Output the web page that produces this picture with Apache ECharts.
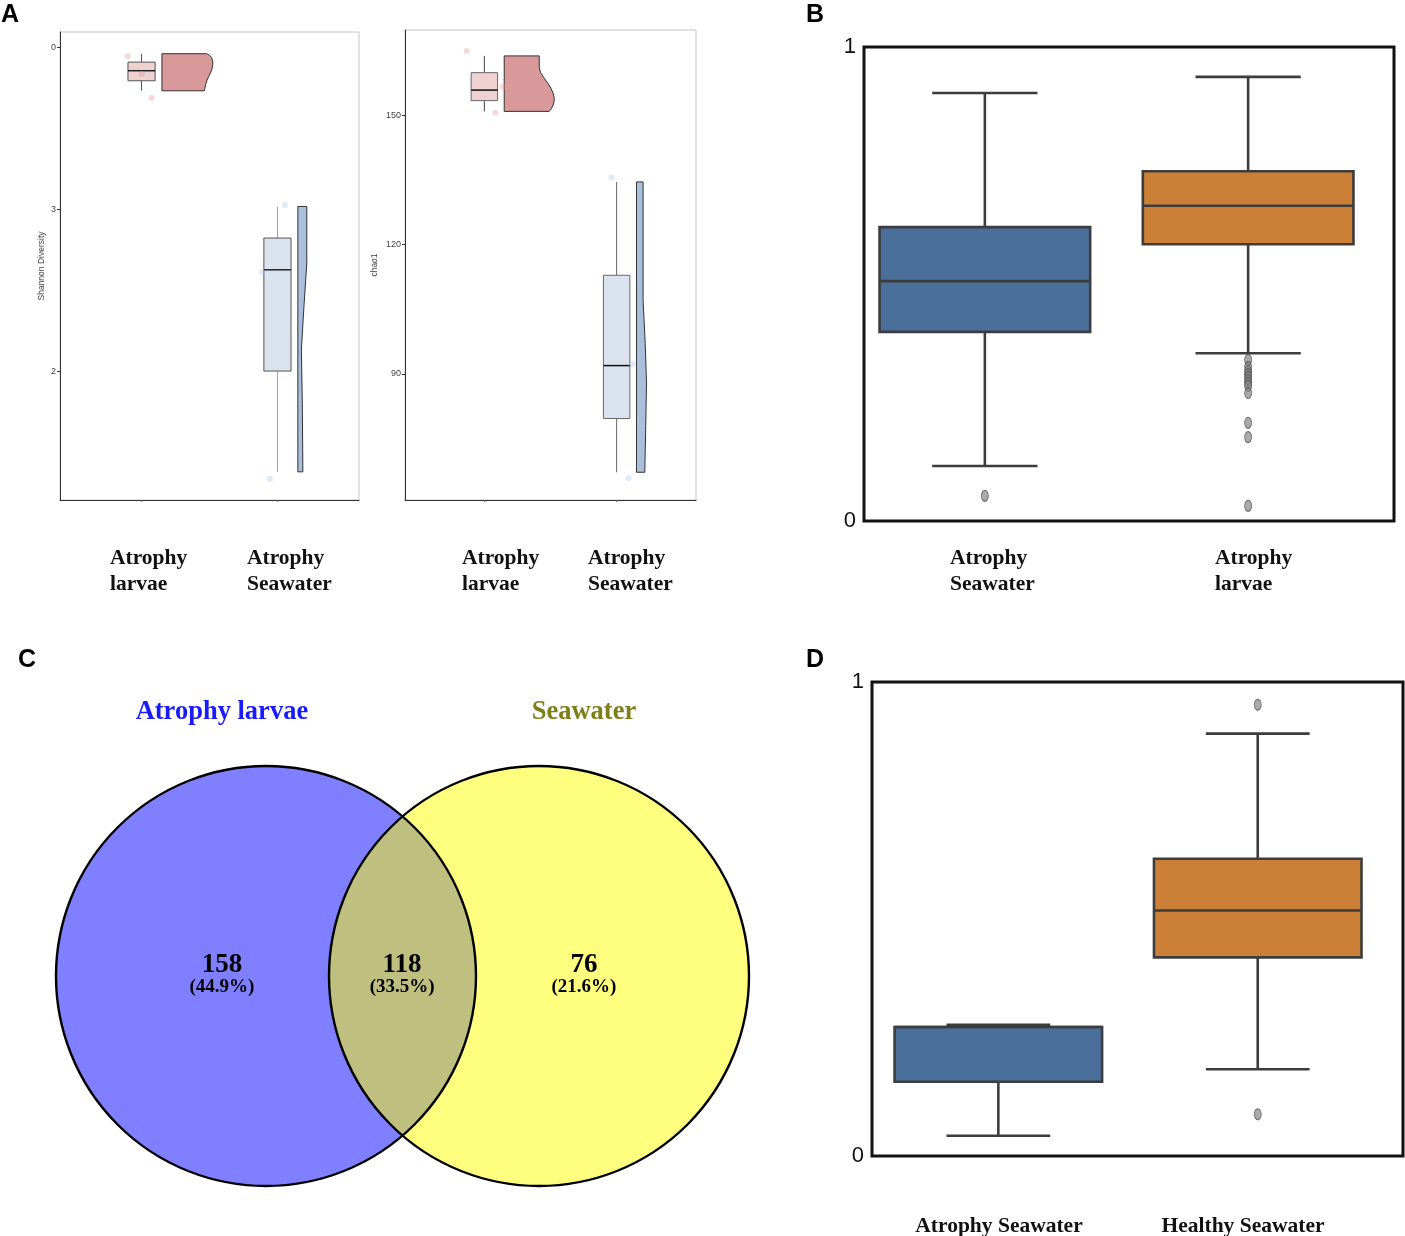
<!DOCTYPE html>
<html><head><meta charset="utf-8">
<script src="https://cdn.jsdelivr.net/npm/echarts@6/dist/echarts.min.js"></script>
<style>html,body{margin:0;padding:0;background:#fff}#c{width:1405px;height:1236px}</style>
</head><body><div id="c"></div>
<script>
// ---------------- DATA ----------------
// Panel A (left): Shannon diversity  [group, whiskerLow, Q1, median, Q3, whiskerHigh]
const groupsA = ['Atrophy larvae', 'Atrophy Seawater'];
const shannonBox = [[1, 3.730, 3.792, 3.854, 3.907, 3.959], [2, 1.378, 2.000, 2.625, 2.821, 3.016]];
const shannonPoints = [[0.897, 3.944], [1.000, 3.833], [1.074, 3.685], [2.055, 3.025], [1.886, 2.611], [1.945, 1.334]];
const shannonViolinLarvae = [[3.959, 0.330], [3.950, 0.350], [3.935, 0.366], [3.915, 0.373], [3.895, 0.375], [3.870, 0.370], [3.846, 0.360], [3.820, 0.345], [3.796, 0.332], [3.770, 0.322], [3.745, 0.316], [3.730, 0.312]];
const shannonViolinSeawater = [[3.016, 0.066], [2.667, 0.066], [2.40, 0.045], [2.13, 0.026], [1.80, 0.033], [1.378, 0.037]];
const shannonTicks = [2, 3, 4];
const shannonTickLabels = ['2', '3', '0'];
// Panel A (right): chao1
const chaoBox = [[1, 151.0, 153.5, 155.95, 160.0, 163.9], [2, 67.1, 79.6, 91.9, 112.9, 134.6]];
const chaoPoints = [[0.866, 165.06], [1.138, 156.72], [1.082, 150.69], [1.962, 135.6], [2.118, 92.2], [2.091, 65.7]];
const chaoViolinLarvae = [[163.9, 0.265], [161.2, 0.265], [160.0, 0.275], [158.6, 0.305], [157.4, 0.333], [156.3, 0.355], [155.2, 0.370], [154.2, 0.378], [153.2, 0.377], [152.5, 0.370], [151.6, 0.356], [151.0, 0.340]];
const chaoViolinSeawater = [[134.6, 0.050], [107.1, 0.050], [97.0, 0.066], [87.9, 0.076], [78.0, 0.070], [67.1, 0.063]];
const chaoTicks = [90, 120, 150];
// Panel B
const groupsB = ['Atrophy Seawater', 'Atrophy larvae'];
const boxB = [[0, 0.116, 0.399, 0.506, 0.620, 0.903], [1, 0.354, 0.584, 0.665, 0.738, 0.937]];
const outliersB = [[0, 0.053], [1, 0.340], [1, 0.325], [1, 0.316], [1, 0.310], [1, 0.304], [1, 0.297], [1, 0.291], [1, 0.285], [1, 0.270], [1, 0.207], [1, 0.177], [1, 0.032]];
// Panel C: Venn
const vennSets = ['Atrophy larvae', 'Seawater'];
const vennCounts = [158, 118, 76];
const vennPercents = ['44.9%', '33.5%', '21.6%'];
// Panel D
const groupsD = ['Atrophy Seawater', 'Healthy Seawater'];
const boxD = [[0, 0.0427, 0.1565, 0.272, 0.272, 0.277], [1, 0.183, 0.419, 0.518, 0.627, 0.891]];
const outliersD = [[1, 0.952], [1, 0.088]];
const unitTicks = [0, 1];

// ---------------- STYLE / LAYOUT ----------------
const SERIF = '"Liberation Serif", "Times New Roman", serif';
const SANS = '"Liberation Sans", Arial, Helvetica, sans-serif';
const BLUE = '#4a6f9b', ORANGE = '#cc7f36', LINE = '#3d3d3d';

function boxRender(o) {
  return function (params, api) {
    const i = params.dataIndex;
    const x = api.value(0);
    const c = v => api.coord([x, v]);
    const pLo = c(api.value(1)), pQ1 = c(api.value(2)), pMed = c(api.value(3)), pQ3 = c(api.value(4)), pHi = c(api.value(5));
    const hw = api.size([o.half, 0])[0];
    const cw = o.cap ? api.size([o.cap, 0])[0] : 0;
    const cx = pLo[0];
    const wl = { stroke: o.whisker[i], lineWidth: o.lw };
    const ch = [
      { type: 'line', shape: { x1: cx, y1: pLo[1], x2: cx, y2: pQ1[1] }, style: wl },
      { type: 'line', shape: { x1: cx, y1: pQ3[1], x2: cx, y2: pHi[1] }, style: wl },
      { type: 'rect', shape: { x: cx - hw, y: pQ3[1], width: 2 * hw, height: pQ1[1] - pQ3[1] }, style: { fill: o.fills[i], stroke: o.border, lineWidth: o.lw } },
      { type: 'line', shape: { x1: cx - hw, y1: pMed[1], x2: cx + hw, y2: pMed[1] }, style: { stroke: o.med, lineWidth: o.medW } }
    ];
    if (cw) {
      ch.push({ type: 'line', shape: { x1: cx - cw, y1: pLo[1], x2: cx + cw, y2: pLo[1] }, style: wl });
      ch.push({ type: 'line', shape: { x1: cx - cw, y1: pHi[1], x2: cx + cw, y2: pHi[1] }, style: wl });
    }
    return { type: 'group', children: ch };
  };
}

function violinRender(profiles, fills, offset) {
  return function (params, api) {
    const g = api.value(0);
    const prof = profiles[params.dataIndex];
    const base = g + offset;
    const pts = [api.coord([base, prof[0][0]])];
    prof.forEach(p => pts.push(api.coord([base + p[1], p[0]])));
    pts.push(api.coord([base, prof[prof.length - 1][0]]));
    return { type: 'polygon', shape: { points: pts }, style: { fill: fills[params.dataIndex], stroke: '#333', lineWidth: 1, lineJoin: 'round' } };
  };
}

const gridsA = [
  { left: 60, top: 32, width: 299, height: 468 },
  { left: 405, top: 30, width: 291, height: 470 }
].map(g => Object.assign(g, { show: true, borderColor: '#c4c4c4', borderWidth: 1, containLabel: false, outerBoundsMode: 'none' }));

const grids = gridsA.concat([
  { left: 864, top: 47, width: 530, height: 474, show: true, borderColor: '#111', borderWidth: 3, containLabel: false, outerBoundsMode: 'none' },
  { left: 872, top: 682, width: 531, height: 474, show: true, borderColor: '#111', borderWidth: 3, containLabel: false, outerBoundsMode: 'none' },
  { left: 14, top: 661, width: 798, height: 567, show: false, containLabel: false, outerBoundsMode: 'none' }
]);

const smallAxisA = (gi) => ({
  type: 'value', gridIndex: gi, min: 0.4, max: 2.6,
  splitLine: { show: false },
  axisLine: { show: true, onZero: false, lineStyle: { color: '#333', width: 1 } },
  axisTick: { show: true, length: 2, customValues: [1, 2], lineStyle: { color: '#666' } },
  axisLabel: { show: false }
});

const xAxes = [
  smallAxisA(0), smallAxisA(1),
  { type: 'value', gridIndex: 2, min: -0.459, max: 1.554, show: false },
  { type: 'value', gridIndex: 3, min: -0.487, max: 1.56, show: false },
  { type: 'value', gridIndex: 4, min: -1.2, max: 2.6, show: false }
];

const yAxes = [
  {
    type: 'value', gridIndex: 0, min: 1.204, max: 4.093, splitLine: { show: false },
    axisLine: { show: true, onZero: false, lineStyle: { color: '#333', width: 1 } },
    axisTick: { show: true, length: 3, customValues: shannonTicks, lineStyle: { color: '#333' } },
    axisLabel: { customValues: shannonTicks, formatter: v => shannonTickLabels[shannonTicks.indexOf(v)], fontSize: 9, color: '#444', margin: 4, fontFamily: SANS },
    name: 'Shannon Diversity', nameLocation: 'middle', nameGap: 14, nameTextStyle: { fontSize: 8.5, color: '#444', fontFamily: SANS }
  },
  {
    type: 'value', gridIndex: 1, min: 60.65, max: 169.92, splitLine: { show: false },
    axisLine: { show: true, onZero: false, lineStyle: { color: '#333', width: 1 } },
    axisTick: { show: true, length: 3, customValues: chaoTicks, lineStyle: { color: '#333' } },
    axisLabel: { customValues: chaoTicks, fontSize: 9, color: '#444', margin: 4, fontFamily: SANS },
    name: 'chao1', nameLocation: 'middle', nameGap: 26, nameTextStyle: { fontSize: 8.5, color: '#444', fontFamily: SANS }
  },
  {
    type: 'value', gridIndex: 2, min: 0, max: 1, splitLine: { show: false }, axisLine: { show: false }, axisTick: { show: false },
    axisLabel: { customValues: unitTicks, fontSize: 22, color: '#111', margin: 8, fontFamily: SANS }
  },
  {
    type: 'value', gridIndex: 3, min: 0, max: 1, splitLine: { show: false }, axisLine: { show: false }, axisTick: { show: false },
    axisLabel: { customValues: unitTicks, fontSize: 22, color: '#111', margin: 8, fontFamily: SANS }
  },
  { type: 'value', gridIndex: 4, min: -1.2, max: 1.5, show: false }
];

const pinkBox = '#f0d1d2', blueBox = '#dbe3ef', pinkViolin = '#d99899', blueViolin = '#a9bfdb';

// Venn geometry (layout)
const vennCircles = [[0, 0, 1], [1.3, 0, 1]];
const vennColors = ['#0000ff', '#ffff00'];
const vennLabelX = [-0.21, 0.648, 1.514];

const series = [
  // A left
  { type: 'custom', xAxisIndex: 0, yAxisIndex: 0, data: shannonBox.map(b => [b[0], b[1]]),
    renderItem: violinRender([shannonViolinLarvae, shannonViolinSeawater], [pinkViolin, blueViolin], 0.15), silent: true },
  { type: 'custom', xAxisIndex: 0, yAxisIndex: 0, data: shannonBox,
    renderItem: boxRender({ half: 0.1, fills: [pinkBox, blueBox], whisker: ['#555', '#a0a0a0'], border: '#555', lw: 1, med: '#222', medW: 1.5 }), silent: true },
  { type: 'scatter', xAxisIndex: 0, yAxisIndex: 0, data: shannonPoints, symbolSize: 6,
    itemStyle: { color: p => (p.value[0] < 1.5 ? 'rgba(226,150,150,0.45)' : 'rgba(170,195,230,0.45)') }, silent: true },
  // A right
  { type: 'custom', xAxisIndex: 1, yAxisIndex: 1, data: chaoBox.map(b => [b[0], b[1]]),
    renderItem: violinRender([chaoViolinLarvae, chaoViolinSeawater], [pinkViolin, blueViolin], 0.15), silent: true },
  { type: 'custom', xAxisIndex: 1, yAxisIndex: 1, data: chaoBox,
    renderItem: boxRender({ half: 0.1, fills: [pinkBox, blueBox], whisker: ['#444', '#666'], border: '#666', lw: 1, med: '#111', medW: 1.5 }), silent: true },
  { type: 'scatter', xAxisIndex: 1, yAxisIndex: 1, data: chaoPoints, symbolSize: 6,
    itemStyle: { color: p => (p.value[0] < 1.5 ? 'rgba(226,150,150,0.45)' : 'rgba(170,195,230,0.45)') }, silent: true },
  // B
  { type: 'custom', xAxisIndex: 2, yAxisIndex: 2, data: boxB,
    renderItem: boxRender({ half: 0.4, cap: 0.2, fills: [BLUE, ORANGE], whisker: [LINE, LINE], border: LINE, lw: 2.6, med: LINE, medW: 2.6 }), silent: true },
  { type: 'scatter', xAxisIndex: 2, yAxisIndex: 2, data: outliersB, symbol: 'circle', symbolSize: [7, 11],
    itemStyle: { color: 'rgba(130,130,130,0.85)', borderColor: '#555', borderWidth: 1 }, silent: true },
  // D
  { type: 'custom', xAxisIndex: 3, yAxisIndex: 3, data: boxD,
    renderItem: boxRender({ half: 0.4, cap: 0.2, fills: [BLUE, ORANGE], whisker: [LINE, LINE], border: LINE, lw: 2.6, med: LINE, medW: 2.6 }), silent: true },
  { type: 'scatter', xAxisIndex: 3, yAxisIndex: 3, data: outliersD, symbol: 'circle', symbolSize: [7, 11],
    itemStyle: { color: 'rgba(130,130,130,0.85)', borderColor: '#555', borderWidth: 1 }, silent: true },
  // C Venn fills
  { type: 'custom', xAxisIndex: 4, yAxisIndex: 4, data: vennCircles, silent: true,
    renderItem: function (params, api) {
      const p = api.coord([api.value(0), api.value(1)]);
      const r = api.size([api.value(2), 0])[0];
      return { type: 'circle', shape: { cx: p[0], cy: p[1], r: r }, style: { fill: vennColors[params.dataIndex], opacity: 0.5 } };
    } },
  // Venn outlines
  { type: 'custom', xAxisIndex: 4, yAxisIndex: 4, data: vennCircles, silent: true,
    renderItem: function (params, api) {
      const p = api.coord([api.value(0), api.value(1)]);
      const r = api.size([api.value(2), 0])[0];
      return { type: 'circle', shape: { cx: p[0], cy: p[1], r: r }, style: { fill: 'none', stroke: '#000', lineWidth: 2.4 } };
    } },
  // Venn labels
  { type: 'custom', xAxisIndex: 4, yAxisIndex: 4, data: vennCounts.map((c, i) => [vennLabelX[i], 0, c]), silent: true,
    renderItem: function (params, api) {
      const i = params.dataIndex;
      const p1 = api.coord([api.value(0), 0.05]);
      const p2 = api.coord([api.value(0), -0.052]);
      return { type: 'group', children: [
        { type: 'text', x: p1[0], y: p1[1], style: { text: String(vennCounts[i]), fill: '#000', fontSize: 27, fontWeight: 'bold', fontFamily: SERIF, align: 'center', verticalAlign: 'middle' } },
        { type: 'text', x: p2[0], y: p2[1], style: { text: '(' + vennPercents[i] + ')', fill: '#000', fontSize: 19, fontWeight: 'bold', fontFamily: SERIF, align: 'center', verticalAlign: 'middle' } }
      ] };
    } },
  // Venn titles
  { type: 'custom', xAxisIndex: 4, yAxisIndex: 4, data: vennSets.map((s, i) => [vennLabelX[i * 2], 1.255]), silent: true,
    renderItem: function (params, api) {
      const i = params.dataIndex;
      const p = api.coord([api.value(0), api.value(1)]);
      return { type: 'text', x: p[0], y: p[1], style: { text: vennSets[i], fill: ['#1a1aff', '#7f7f1a'][i], fontSize: 26.5, fontWeight: 'bold', fontFamily: SERIF, align: 'center', verticalAlign: 'middle' } };
    } }
];

// category labels & panel letters
const catFont = { fontSize: 21.5, fontWeight: 'bold', fontFamily: SERIF, fill: '#111', lineHeight: 26 };
function twoLine(name) { return name.replace(' ', '\n'); }
const graphic = [
  { type: 'text', left: 110, top: 545, style: Object.assign({ text: twoLine(groupsA[0]) }, catFont) },
  { type: 'text', left: 247, top: 545, style: Object.assign({ text: twoLine(groupsA[1]) }, catFont) },
  { type: 'text', left: 462, top: 545, style: Object.assign({ text: twoLine(groupsA[0]) }, catFont) },
  { type: 'text', left: 588, top: 545, style: Object.assign({ text: twoLine(groupsA[1]) }, catFont) },
  { type: 'text', left: 950, top: 545, style: Object.assign({ text: twoLine(groupsB[0]) }, catFont) },
  { type: 'text', left: 1215, top: 545, style: Object.assign({ text: twoLine(groupsB[1]) }, catFont) },
  { type: 'text', x: 999, y: 1226, style: Object.assign({ text: groupsD[0], align: 'center', verticalAlign: 'middle' }, catFont) },
  { type: 'text', x: 1243, y: 1226, style: Object.assign({ text: groupsD[1], align: 'center', verticalAlign: 'middle' }, catFont) },
  { type: 'text', x: 10, y: 15, style: { text: 'A', fontSize: 25, fontWeight: 'bold', fontFamily: SANS, fill: '#000', align: 'center', verticalAlign: 'middle' } },
  { type: 'text', x: 815, y: 15, style: { text: 'B', fontSize: 25, fontWeight: 'bold', fontFamily: SANS, fill: '#000', align: 'center', verticalAlign: 'middle' } },
  { type: 'text', x: 27, y: 660, style: { text: 'C', fontSize: 25, fontWeight: 'bold', fontFamily: SANS, fill: '#000', align: 'center', verticalAlign: 'middle' } },
  { type: 'text', x: 815, y: 660, style: { text: 'D', fontSize: 25, fontWeight: 'bold', fontFamily: SANS, fill: '#000', align: 'center', verticalAlign: 'middle' } }
];

const chart = echarts.init(document.getElementById('c'), null, { renderer: 'canvas' });
chart.setOption({
  backgroundColor: '#fff',
  animation: false,
  grid: grids,
  xAxis: xAxes,
  yAxis: yAxes,
  series: series,
  graphic: graphic
});
</script>
</body></html>
